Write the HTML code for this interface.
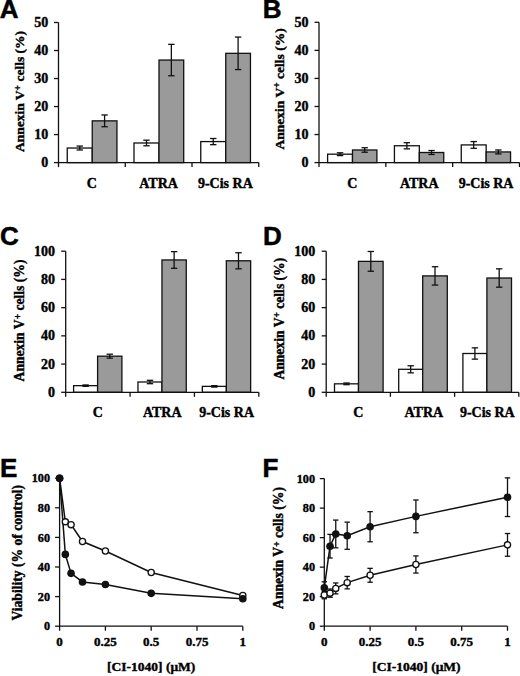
<!DOCTYPE html>
<html><head><meta charset="utf-8"><style>
html,body{margin:0;padding:0;background:#fff;}
svg{display:block;}
</style></head><body>
<svg width="520" height="676" viewBox="0 0 520 676">
<rect width="520" height="676" fill="#fff"/>
<text x="-0.20" y="18.20" font-family="Liberation Sans, sans-serif" font-weight="bold" stroke="#000" stroke-width="0.5" font-size="26">A</text>
<rect x="67.25" y="148.03" width="25.00" height="14.57" fill="#fff" stroke="#111" stroke-width="1.3"/>
<rect x="92.25" y="120.85" width="24.70" height="41.75" fill="#9a9a9a" stroke="#111" stroke-width="1.3"/>
<line x1="79.75" y1="146.07" x2="79.75" y2="149.99" stroke="#111" stroke-width="1.3"/>
<line x1="76.55" y1="146.07" x2="82.95" y2="146.07" stroke="#111" stroke-width="1.3"/>
<line x1="76.55" y1="149.99" x2="82.95" y2="149.99" stroke="#111" stroke-width="1.3"/>
<line x1="104.60" y1="114.97" x2="104.60" y2="126.73" stroke="#111" stroke-width="1.3"/>
<line x1="101.40" y1="114.97" x2="107.80" y2="114.97" stroke="#111" stroke-width="1.3"/>
<line x1="101.40" y1="126.73" x2="107.80" y2="126.73" stroke="#111" stroke-width="1.3"/>
<rect x="134.00" y="142.99" width="25.00" height="19.61" fill="#fff" stroke="#111" stroke-width="1.3"/>
<rect x="159.00" y="60.05" width="24.70" height="102.55" fill="#9a9a9a" stroke="#111" stroke-width="1.3"/>
<line x1="146.50" y1="140.18" x2="146.50" y2="145.79" stroke="#111" stroke-width="1.3"/>
<line x1="143.30" y1="140.18" x2="149.70" y2="140.18" stroke="#111" stroke-width="1.3"/>
<line x1="143.30" y1="145.79" x2="149.70" y2="145.79" stroke="#111" stroke-width="1.3"/>
<line x1="171.35" y1="44.36" x2="171.35" y2="75.74" stroke="#111" stroke-width="1.3"/>
<line x1="168.15" y1="44.36" x2="174.55" y2="44.36" stroke="#111" stroke-width="1.3"/>
<line x1="168.15" y1="75.74" x2="174.55" y2="75.74" stroke="#111" stroke-width="1.3"/>
<rect x="200.75" y="141.58" width="25.00" height="21.02" fill="#fff" stroke="#111" stroke-width="1.3"/>
<rect x="225.75" y="53.32" width="24.70" height="109.28" fill="#9a9a9a" stroke="#111" stroke-width="1.3"/>
<line x1="213.25" y1="138.50" x2="213.25" y2="144.67" stroke="#111" stroke-width="1.3"/>
<line x1="210.05" y1="138.50" x2="216.45" y2="138.50" stroke="#111" stroke-width="1.3"/>
<line x1="210.05" y1="144.67" x2="216.45" y2="144.67" stroke="#111" stroke-width="1.3"/>
<line x1="238.10" y1="37.07" x2="238.10" y2="69.57" stroke="#111" stroke-width="1.3"/>
<line x1="234.90" y1="37.07" x2="241.30" y2="37.07" stroke="#111" stroke-width="1.3"/>
<line x1="234.90" y1="69.57" x2="241.30" y2="69.57" stroke="#111" stroke-width="1.3"/>
<line x1="58.50" y1="22.50" x2="58.50" y2="167.10" stroke="#111" stroke-width="1.3"/>
<line x1="58.50" y1="162.60" x2="258.75" y2="162.60" stroke="#111" stroke-width="1.3"/>
<line x1="125.25" y1="162.60" x2="125.25" y2="167.10" stroke="#111" stroke-width="1.3"/>
<line x1="192.00" y1="162.60" x2="192.00" y2="167.10" stroke="#111" stroke-width="1.3"/>
<line x1="258.75" y1="162.60" x2="258.75" y2="167.10" stroke="#111" stroke-width="1.3"/>
<line x1="54.00" y1="162.60" x2="58.50" y2="162.60" stroke="#111" stroke-width="1.3"/>
<text x="48.30" y="167.20" font-family="Liberation Serif, serif" font-weight="bold" stroke="#000" stroke-width="0.4" font-size="14" text-anchor="end" >0</text>
<line x1="54.00" y1="134.58" x2="58.50" y2="134.58" stroke="#111" stroke-width="1.3"/>
<text x="48.30" y="139.18" font-family="Liberation Serif, serif" font-weight="bold" stroke="#000" stroke-width="0.4" font-size="14" text-anchor="end" >10</text>
<line x1="54.00" y1="106.56" x2="58.50" y2="106.56" stroke="#111" stroke-width="1.3"/>
<text x="48.30" y="111.16" font-family="Liberation Serif, serif" font-weight="bold" stroke="#000" stroke-width="0.4" font-size="14" text-anchor="end" >20</text>
<line x1="54.00" y1="78.54" x2="58.50" y2="78.54" stroke="#111" stroke-width="1.3"/>
<text x="48.30" y="83.14" font-family="Liberation Serif, serif" font-weight="bold" stroke="#000" stroke-width="0.4" font-size="14" text-anchor="end" >30</text>
<line x1="54.00" y1="50.52" x2="58.50" y2="50.52" stroke="#111" stroke-width="1.3"/>
<text x="48.30" y="55.12" font-family="Liberation Serif, serif" font-weight="bold" stroke="#000" stroke-width="0.4" font-size="14" text-anchor="end" >40</text>
<line x1="54.00" y1="22.50" x2="58.50" y2="22.50" stroke="#111" stroke-width="1.3"/>
<text x="48.30" y="27.10" font-family="Liberation Serif, serif" font-weight="bold" stroke="#000" stroke-width="0.4" font-size="14" text-anchor="end" >50</text>
<text x="91.88" y="187.80" font-family="Liberation Serif, serif" font-weight="bold" stroke="#000" stroke-width="0.4" font-size="14" text-anchor="middle" >C</text>
<text x="158.62" y="187.80" font-family="Liberation Serif, serif" font-weight="bold" stroke="#000" stroke-width="0.4" font-size="14" text-anchor="middle" >ATRA</text>
<text x="225.38" y="187.80" font-family="Liberation Serif, serif" font-weight="bold" stroke="#000" stroke-width="0.4" font-size="14" text-anchor="middle" >9-Cis RA</text>
<text transform="translate(24.20,91.50) rotate(-90)" x="0" y="0" font-family="Liberation Serif, serif" font-weight="bold" stroke="#000" stroke-width="0.4" font-size="13.5" text-anchor="middle">Annexin V<tspan font-size="9.5" dy="-3.5">+</tspan><tspan dy="3.5"> cells (%)</tspan></text>
<text x="262.70" y="18.20" font-family="Liberation Sans, sans-serif" font-weight="bold" stroke="#000" stroke-width="0.5" font-size="26">B</text>
<rect x="327.60" y="154.18" width="24.90" height="8.42" fill="#fff" stroke="#111" stroke-width="1.3"/>
<rect x="352.50" y="149.97" width="24.40" height="12.63" fill="#9a9a9a" stroke="#111" stroke-width="1.3"/>
<line x1="340.05" y1="152.78" x2="340.05" y2="155.59" stroke="#111" stroke-width="1.3"/>
<line x1="336.85" y1="152.78" x2="343.25" y2="152.78" stroke="#111" stroke-width="1.3"/>
<line x1="336.85" y1="155.59" x2="343.25" y2="155.59" stroke="#111" stroke-width="1.3"/>
<line x1="364.70" y1="147.73" x2="364.70" y2="152.22" stroke="#111" stroke-width="1.3"/>
<line x1="361.50" y1="147.73" x2="367.90" y2="147.73" stroke="#111" stroke-width="1.3"/>
<line x1="361.50" y1="152.22" x2="367.90" y2="152.22" stroke="#111" stroke-width="1.3"/>
<rect x="394.43" y="145.76" width="24.90" height="16.84" fill="#fff" stroke="#111" stroke-width="1.3"/>
<rect x="419.33" y="152.50" width="24.40" height="10.10" fill="#9a9a9a" stroke="#111" stroke-width="1.3"/>
<line x1="406.88" y1="142.68" x2="406.88" y2="148.85" stroke="#111" stroke-width="1.3"/>
<line x1="403.68" y1="142.68" x2="410.08" y2="142.68" stroke="#111" stroke-width="1.3"/>
<line x1="403.68" y1="148.85" x2="410.08" y2="148.85" stroke="#111" stroke-width="1.3"/>
<line x1="431.53" y1="150.53" x2="431.53" y2="154.46" stroke="#111" stroke-width="1.3"/>
<line x1="428.33" y1="150.53" x2="434.73" y2="150.53" stroke="#111" stroke-width="1.3"/>
<line x1="428.33" y1="154.46" x2="434.73" y2="154.46" stroke="#111" stroke-width="1.3"/>
<rect x="461.26" y="144.92" width="24.90" height="17.68" fill="#fff" stroke="#111" stroke-width="1.3"/>
<rect x="486.16" y="151.94" width="24.40" height="10.66" fill="#9a9a9a" stroke="#111" stroke-width="1.3"/>
<line x1="473.71" y1="141.56" x2="473.71" y2="148.29" stroke="#111" stroke-width="1.3"/>
<line x1="470.51" y1="141.56" x2="476.91" y2="141.56" stroke="#111" stroke-width="1.3"/>
<line x1="470.51" y1="148.29" x2="476.91" y2="148.29" stroke="#111" stroke-width="1.3"/>
<line x1="498.36" y1="149.97" x2="498.36" y2="153.90" stroke="#111" stroke-width="1.3"/>
<line x1="495.16" y1="149.97" x2="501.56" y2="149.97" stroke="#111" stroke-width="1.3"/>
<line x1="495.16" y1="153.90" x2="501.56" y2="153.90" stroke="#111" stroke-width="1.3"/>
<line x1="319.00" y1="22.30" x2="319.00" y2="167.10" stroke="#111" stroke-width="1.3"/>
<line x1="319.00" y1="162.60" x2="519.50" y2="162.60" stroke="#111" stroke-width="1.3"/>
<line x1="385.83" y1="162.60" x2="385.83" y2="167.10" stroke="#111" stroke-width="1.3"/>
<line x1="452.66" y1="162.60" x2="452.66" y2="167.10" stroke="#111" stroke-width="1.3"/>
<line x1="519.49" y1="162.60" x2="519.49" y2="167.10" stroke="#111" stroke-width="1.3"/>
<line x1="314.50" y1="162.60" x2="319.00" y2="162.60" stroke="#111" stroke-width="1.3"/>
<text x="308.60" y="167.20" font-family="Liberation Serif, serif" font-weight="bold" stroke="#000" stroke-width="0.4" font-size="14" text-anchor="end" >0</text>
<line x1="314.50" y1="134.54" x2="319.00" y2="134.54" stroke="#111" stroke-width="1.3"/>
<text x="308.60" y="139.14" font-family="Liberation Serif, serif" font-weight="bold" stroke="#000" stroke-width="0.4" font-size="14" text-anchor="end" >10</text>
<line x1="314.50" y1="106.48" x2="319.00" y2="106.48" stroke="#111" stroke-width="1.3"/>
<text x="308.60" y="111.08" font-family="Liberation Serif, serif" font-weight="bold" stroke="#000" stroke-width="0.4" font-size="14" text-anchor="end" >20</text>
<line x1="314.50" y1="78.42" x2="319.00" y2="78.42" stroke="#111" stroke-width="1.3"/>
<text x="308.60" y="83.02" font-family="Liberation Serif, serif" font-weight="bold" stroke="#000" stroke-width="0.4" font-size="14" text-anchor="end" >30</text>
<line x1="314.50" y1="50.36" x2="319.00" y2="50.36" stroke="#111" stroke-width="1.3"/>
<text x="308.60" y="54.96" font-family="Liberation Serif, serif" font-weight="bold" stroke="#000" stroke-width="0.4" font-size="14" text-anchor="end" >40</text>
<line x1="314.50" y1="22.30" x2="319.00" y2="22.30" stroke="#111" stroke-width="1.3"/>
<text x="308.60" y="26.90" font-family="Liberation Serif, serif" font-weight="bold" stroke="#000" stroke-width="0.4" font-size="14" text-anchor="end" >50</text>
<text x="352.42" y="187.80" font-family="Liberation Serif, serif" font-weight="bold" stroke="#000" stroke-width="0.4" font-size="14" text-anchor="middle" >C</text>
<text x="419.25" y="187.80" font-family="Liberation Serif, serif" font-weight="bold" stroke="#000" stroke-width="0.4" font-size="14" text-anchor="middle" >ATRA</text>
<text x="486.07" y="187.80" font-family="Liberation Serif, serif" font-weight="bold" stroke="#000" stroke-width="0.4" font-size="14" text-anchor="middle" >9-Cis RA</text>
<text transform="translate(283.80,88.90) rotate(-90)" x="0" y="0" font-family="Liberation Serif, serif" font-weight="bold" stroke="#000" stroke-width="0.4" font-size="13.5" text-anchor="middle">Annexin V<tspan font-size="9.5" dy="-3.5">+</tspan><tspan dy="3.5"> cells (%)</tspan></text>
<text x="0.00" y="245.40" font-family="Liberation Sans, sans-serif" font-weight="bold" stroke="#000" stroke-width="0.5" font-size="26">C</text>
<rect x="73.60" y="385.67" width="24.00" height="6.63" fill="#fff" stroke="#111" stroke-width="1.3"/>
<rect x="97.60" y="356.18" width="24.30" height="36.12" fill="#9a9a9a" stroke="#111" stroke-width="1.3"/>
<line x1="85.60" y1="384.96" x2="85.60" y2="386.37" stroke="#111" stroke-width="1.3"/>
<line x1="82.40" y1="384.96" x2="88.80" y2="384.96" stroke="#111" stroke-width="1.3"/>
<line x1="82.40" y1="386.37" x2="88.80" y2="386.37" stroke="#111" stroke-width="1.3"/>
<line x1="109.75" y1="354.20" x2="109.75" y2="358.15" stroke="#111" stroke-width="1.3"/>
<line x1="106.55" y1="354.20" x2="112.95" y2="354.20" stroke="#111" stroke-width="1.3"/>
<line x1="106.55" y1="358.15" x2="112.95" y2="358.15" stroke="#111" stroke-width="1.3"/>
<rect x="137.97" y="382.00" width="24.00" height="10.30" fill="#fff" stroke="#111" stroke-width="1.3"/>
<rect x="161.97" y="259.95" width="24.30" height="132.35" fill="#9a9a9a" stroke="#111" stroke-width="1.3"/>
<line x1="149.97" y1="380.31" x2="149.97" y2="383.69" stroke="#111" stroke-width="1.3"/>
<line x1="146.77" y1="380.31" x2="153.17" y2="380.31" stroke="#111" stroke-width="1.3"/>
<line x1="146.77" y1="383.69" x2="153.17" y2="383.69" stroke="#111" stroke-width="1.3"/>
<line x1="174.12" y1="251.62" x2="174.12" y2="268.27" stroke="#111" stroke-width="1.3"/>
<line x1="170.92" y1="251.62" x2="177.32" y2="251.62" stroke="#111" stroke-width="1.3"/>
<line x1="170.92" y1="268.27" x2="177.32" y2="268.27" stroke="#111" stroke-width="1.3"/>
<rect x="202.34" y="386.37" width="24.00" height="5.93" fill="#fff" stroke="#111" stroke-width="1.3"/>
<rect x="226.34" y="260.79" width="24.30" height="131.51" fill="#9a9a9a" stroke="#111" stroke-width="1.3"/>
<line x1="214.34" y1="385.67" x2="214.34" y2="387.08" stroke="#111" stroke-width="1.3"/>
<line x1="211.14" y1="385.67" x2="217.54" y2="385.67" stroke="#111" stroke-width="1.3"/>
<line x1="211.14" y1="387.08" x2="217.54" y2="387.08" stroke="#111" stroke-width="1.3"/>
<line x1="238.49" y1="252.75" x2="238.49" y2="268.84" stroke="#111" stroke-width="1.3"/>
<line x1="235.29" y1="252.75" x2="241.69" y2="252.75" stroke="#111" stroke-width="1.3"/>
<line x1="235.29" y1="268.84" x2="241.69" y2="268.84" stroke="#111" stroke-width="1.3"/>
<line x1="65.70" y1="251.20" x2="65.70" y2="396.80" stroke="#111" stroke-width="1.3"/>
<line x1="65.70" y1="392.30" x2="258.80" y2="392.30" stroke="#111" stroke-width="1.3"/>
<line x1="130.07" y1="392.30" x2="130.07" y2="396.80" stroke="#111" stroke-width="1.3"/>
<line x1="194.44" y1="392.30" x2="194.44" y2="396.80" stroke="#111" stroke-width="1.3"/>
<line x1="258.81" y1="392.30" x2="258.81" y2="396.80" stroke="#111" stroke-width="1.3"/>
<line x1="61.20" y1="392.30" x2="65.70" y2="392.30" stroke="#111" stroke-width="1.3"/>
<text x="55.00" y="396.90" font-family="Liberation Serif, serif" font-weight="bold" stroke="#000" stroke-width="0.4" font-size="14" text-anchor="end" >0</text>
<line x1="61.20" y1="364.08" x2="65.70" y2="364.08" stroke="#111" stroke-width="1.3"/>
<text x="55.00" y="368.68" font-family="Liberation Serif, serif" font-weight="bold" stroke="#000" stroke-width="0.4" font-size="14" text-anchor="end" >20</text>
<line x1="61.20" y1="335.86" x2="65.70" y2="335.86" stroke="#111" stroke-width="1.3"/>
<text x="55.00" y="340.46" font-family="Liberation Serif, serif" font-weight="bold" stroke="#000" stroke-width="0.4" font-size="14" text-anchor="end" >40</text>
<line x1="61.20" y1="307.64" x2="65.70" y2="307.64" stroke="#111" stroke-width="1.3"/>
<text x="55.00" y="312.24" font-family="Liberation Serif, serif" font-weight="bold" stroke="#000" stroke-width="0.4" font-size="14" text-anchor="end" >60</text>
<line x1="61.20" y1="279.42" x2="65.70" y2="279.42" stroke="#111" stroke-width="1.3"/>
<text x="55.00" y="284.02" font-family="Liberation Serif, serif" font-weight="bold" stroke="#000" stroke-width="0.4" font-size="14" text-anchor="end" >80</text>
<line x1="61.20" y1="251.20" x2="65.70" y2="251.20" stroke="#111" stroke-width="1.3"/>
<text x="55.00" y="255.80" font-family="Liberation Serif, serif" font-weight="bold" stroke="#000" stroke-width="0.4" font-size="14" text-anchor="end" >100</text>
<text x="97.89" y="417.20" font-family="Liberation Serif, serif" font-weight="bold" stroke="#000" stroke-width="0.4" font-size="14" text-anchor="middle" >C</text>
<text x="162.25" y="417.20" font-family="Liberation Serif, serif" font-weight="bold" stroke="#000" stroke-width="0.4" font-size="14" text-anchor="middle" >ATRA</text>
<text x="226.62" y="417.20" font-family="Liberation Serif, serif" font-weight="bold" stroke="#000" stroke-width="0.4" font-size="14" text-anchor="middle" >9-Cis RA</text>
<text transform="translate(24.30,320.50) rotate(-90)" x="0" y="0" font-family="Liberation Serif, serif" font-weight="bold" stroke="#000" stroke-width="0.4" font-size="13.6" text-anchor="middle">Annexin V<tspan font-size="9.5" dy="-3.5">+</tspan><tspan dy="3.5"> cells (%)</tspan></text>
<text x="262.90" y="244.50" font-family="Liberation Sans, sans-serif" font-weight="bold" stroke="#000" stroke-width="0.5" font-size="26">D</text>
<rect x="334.50" y="383.83" width="24.00" height="8.47" fill="#fff" stroke="#111" stroke-width="1.3"/>
<rect x="358.50" y="261.36" width="24.60" height="130.94" fill="#9a9a9a" stroke="#111" stroke-width="1.3"/>
<line x1="346.50" y1="382.99" x2="346.50" y2="384.68" stroke="#111" stroke-width="1.3"/>
<line x1="343.30" y1="382.99" x2="349.70" y2="382.99" stroke="#111" stroke-width="1.3"/>
<line x1="343.30" y1="384.68" x2="349.70" y2="384.68" stroke="#111" stroke-width="1.3"/>
<line x1="370.80" y1="251.48" x2="370.80" y2="271.24" stroke="#111" stroke-width="1.3"/>
<line x1="367.60" y1="251.48" x2="374.00" y2="251.48" stroke="#111" stroke-width="1.3"/>
<line x1="367.60" y1="271.24" x2="374.00" y2="271.24" stroke="#111" stroke-width="1.3"/>
<rect x="398.70" y="369.30" width="24.00" height="23.00" fill="#fff" stroke="#111" stroke-width="1.3"/>
<rect x="422.70" y="275.89" width="24.60" height="116.41" fill="#9a9a9a" stroke="#111" stroke-width="1.3"/>
<line x1="410.70" y1="365.77" x2="410.70" y2="372.83" stroke="#111" stroke-width="1.3"/>
<line x1="407.50" y1="365.77" x2="413.90" y2="365.77" stroke="#111" stroke-width="1.3"/>
<line x1="407.50" y1="372.83" x2="413.90" y2="372.83" stroke="#111" stroke-width="1.3"/>
<line x1="435.00" y1="266.72" x2="435.00" y2="285.06" stroke="#111" stroke-width="1.3"/>
<line x1="431.80" y1="266.72" x2="438.20" y2="266.72" stroke="#111" stroke-width="1.3"/>
<line x1="431.80" y1="285.06" x2="438.20" y2="285.06" stroke="#111" stroke-width="1.3"/>
<rect x="462.90" y="353.50" width="24.00" height="38.80" fill="#fff" stroke="#111" stroke-width="1.3"/>
<rect x="486.90" y="278.01" width="24.60" height="114.29" fill="#9a9a9a" stroke="#111" stroke-width="1.3"/>
<line x1="474.90" y1="347.85" x2="474.90" y2="359.14" stroke="#111" stroke-width="1.3"/>
<line x1="471.70" y1="347.85" x2="478.10" y2="347.85" stroke="#111" stroke-width="1.3"/>
<line x1="471.70" y1="359.14" x2="478.10" y2="359.14" stroke="#111" stroke-width="1.3"/>
<line x1="499.20" y1="268.84" x2="499.20" y2="287.18" stroke="#111" stroke-width="1.3"/>
<line x1="496.00" y1="268.84" x2="502.40" y2="268.84" stroke="#111" stroke-width="1.3"/>
<line x1="496.00" y1="287.18" x2="502.40" y2="287.18" stroke="#111" stroke-width="1.3"/>
<line x1="326.20" y1="251.20" x2="326.20" y2="396.80" stroke="#111" stroke-width="1.3"/>
<line x1="326.20" y1="392.30" x2="518.80" y2="392.30" stroke="#111" stroke-width="1.3"/>
<line x1="390.40" y1="392.30" x2="390.40" y2="396.80" stroke="#111" stroke-width="1.3"/>
<line x1="454.60" y1="392.30" x2="454.60" y2="396.80" stroke="#111" stroke-width="1.3"/>
<line x1="518.80" y1="392.30" x2="518.80" y2="396.80" stroke="#111" stroke-width="1.3"/>
<line x1="321.70" y1="392.30" x2="326.20" y2="392.30" stroke="#111" stroke-width="1.3"/>
<text x="315.30" y="396.90" font-family="Liberation Serif, serif" font-weight="bold" stroke="#000" stroke-width="0.4" font-size="14" text-anchor="end" >0</text>
<line x1="321.70" y1="364.08" x2="326.20" y2="364.08" stroke="#111" stroke-width="1.3"/>
<text x="315.30" y="368.68" font-family="Liberation Serif, serif" font-weight="bold" stroke="#000" stroke-width="0.4" font-size="14" text-anchor="end" >20</text>
<line x1="321.70" y1="335.86" x2="326.20" y2="335.86" stroke="#111" stroke-width="1.3"/>
<text x="315.30" y="340.46" font-family="Liberation Serif, serif" font-weight="bold" stroke="#000" stroke-width="0.4" font-size="14" text-anchor="end" >40</text>
<line x1="321.70" y1="307.64" x2="326.20" y2="307.64" stroke="#111" stroke-width="1.3"/>
<text x="315.30" y="312.24" font-family="Liberation Serif, serif" font-weight="bold" stroke="#000" stroke-width="0.4" font-size="14" text-anchor="end" >60</text>
<line x1="321.70" y1="279.42" x2="326.20" y2="279.42" stroke="#111" stroke-width="1.3"/>
<text x="315.30" y="284.02" font-family="Liberation Serif, serif" font-weight="bold" stroke="#000" stroke-width="0.4" font-size="14" text-anchor="end" >80</text>
<line x1="321.70" y1="251.20" x2="326.20" y2="251.20" stroke="#111" stroke-width="1.3"/>
<text x="315.30" y="255.80" font-family="Liberation Serif, serif" font-weight="bold" stroke="#000" stroke-width="0.4" font-size="14" text-anchor="end" >100</text>
<text x="358.40" y="417.20" font-family="Liberation Serif, serif" font-weight="bold" stroke="#000" stroke-width="0.4" font-size="14" text-anchor="middle" >C</text>
<text x="423.80" y="417.20" font-family="Liberation Serif, serif" font-weight="bold" stroke="#000" stroke-width="0.4" font-size="14" text-anchor="middle" >ATRA</text>
<text x="487.30" y="417.20" font-family="Liberation Serif, serif" font-weight="bold" stroke="#000" stroke-width="0.4" font-size="14" text-anchor="middle" >9-Cis RA</text>
<text transform="translate(283.60,318.70) rotate(-90)" x="0" y="0" font-family="Liberation Serif, serif" font-weight="bold" stroke="#000" stroke-width="0.4" font-size="13.6" text-anchor="middle">Annexin V<tspan font-size="9.5" dy="-3.5">+</tspan><tspan dy="3.5"> cells (%)</tspan></text>
<text x="0.00" y="477.00" font-family="Liberation Sans, sans-serif" font-weight="bold" stroke="#000" stroke-width="0.5" font-size="26">E</text>
<line x1="59.60" y1="478.20" x2="59.60" y2="630.70" stroke="#111" stroke-width="1.3"/>
<line x1="59.60" y1="626.20" x2="242.80" y2="626.20" stroke="#111" stroke-width="1.3"/>
<line x1="105.40" y1="626.20" x2="105.40" y2="630.70" stroke="#111" stroke-width="1.3"/>
<line x1="151.20" y1="626.20" x2="151.20" y2="630.70" stroke="#111" stroke-width="1.3"/>
<line x1="197.00" y1="626.20" x2="197.00" y2="630.70" stroke="#111" stroke-width="1.3"/>
<line x1="242.80" y1="626.20" x2="242.80" y2="630.70" stroke="#111" stroke-width="1.3"/>
<line x1="55.10" y1="626.20" x2="59.60" y2="626.20" stroke="#111" stroke-width="1.3"/>
<text x="50.00" y="630.40" font-family="Liberation Serif, serif" font-weight="bold" stroke="#000" stroke-width="0.4" font-size="12.2" text-anchor="end" >0</text>
<line x1="55.10" y1="596.60" x2="59.60" y2="596.60" stroke="#111" stroke-width="1.3"/>
<text x="50.00" y="600.80" font-family="Liberation Serif, serif" font-weight="bold" stroke="#000" stroke-width="0.4" font-size="12.2" text-anchor="end" >20</text>
<line x1="55.10" y1="567.00" x2="59.60" y2="567.00" stroke="#111" stroke-width="1.3"/>
<text x="50.00" y="571.20" font-family="Liberation Serif, serif" font-weight="bold" stroke="#000" stroke-width="0.4" font-size="12.2" text-anchor="end" >40</text>
<line x1="55.10" y1="537.40" x2="59.60" y2="537.40" stroke="#111" stroke-width="1.3"/>
<text x="50.00" y="541.60" font-family="Liberation Serif, serif" font-weight="bold" stroke="#000" stroke-width="0.4" font-size="12.2" text-anchor="end" >60</text>
<line x1="55.10" y1="507.80" x2="59.60" y2="507.80" stroke="#111" stroke-width="1.3"/>
<text x="50.00" y="512.00" font-family="Liberation Serif, serif" font-weight="bold" stroke="#000" stroke-width="0.4" font-size="12.2" text-anchor="end" >80</text>
<line x1="55.10" y1="478.20" x2="59.60" y2="478.20" stroke="#111" stroke-width="1.3"/>
<text x="50.00" y="482.40" font-family="Liberation Serif, serif" font-weight="bold" stroke="#000" stroke-width="0.4" font-size="12.2" text-anchor="end" >100</text>
<text x="59.60" y="646.20" font-family="Liberation Serif, serif" font-weight="bold" stroke="#000" stroke-width="0.4" font-size="13.0" text-anchor="middle" >0</text>
<text x="105.40" y="646.20" font-family="Liberation Serif, serif" font-weight="bold" stroke="#000" stroke-width="0.4" font-size="13.0" text-anchor="middle" >0.25</text>
<text x="151.20" y="646.20" font-family="Liberation Serif, serif" font-weight="bold" stroke="#000" stroke-width="0.4" font-size="13.0" text-anchor="middle" >0.5</text>
<text x="197.00" y="646.20" font-family="Liberation Serif, serif" font-weight="bold" stroke="#000" stroke-width="0.4" font-size="13.0" text-anchor="middle" >0.75</text>
<text x="242.80" y="646.20" font-family="Liberation Serif, serif" font-weight="bold" stroke="#000" stroke-width="0.4" font-size="13.0" text-anchor="middle" >1</text>
<text x="151.20" y="671.00" font-family="Liberation Serif, serif" font-weight="bold" stroke="#000" stroke-width="0.4" font-size="13.5" text-anchor="middle" >[CI-1040] (μM)</text>
<polyline points="59.60,478.20 65.33,521.86 71.05,524.67 82.50,541.54 105.40,551.02 151.20,572.48 242.80,595.42" fill="none" stroke="#111" stroke-width="1.5"/>
<polyline points="59.60,478.20 65.33,554.42 71.05,573.36 82.50,581.95 105.40,584.46 151.20,593.34 242.80,598.82" fill="none" stroke="#111" stroke-width="1.5"/>
<circle cx="59.60" cy="478.20" r="3.1" fill="#fff" stroke="#111" stroke-width="1.3"/>
<circle cx="65.33" cy="521.86" r="3.1" fill="#fff" stroke="#111" stroke-width="1.3"/>
<circle cx="71.05" cy="524.67" r="3.1" fill="#fff" stroke="#111" stroke-width="1.3"/>
<circle cx="82.50" cy="541.54" r="3.1" fill="#fff" stroke="#111" stroke-width="1.3"/>
<circle cx="105.40" cy="551.02" r="3.1" fill="#fff" stroke="#111" stroke-width="1.3"/>
<circle cx="151.20" cy="572.48" r="3.1" fill="#fff" stroke="#111" stroke-width="1.3"/>
<circle cx="242.80" cy="595.42" r="3.1" fill="#fff" stroke="#111" stroke-width="1.3"/>
<circle cx="59.60" cy="478.20" r="3.8" fill="#111"/>
<circle cx="65.33" cy="554.42" r="3.8" fill="#111"/>
<circle cx="71.05" cy="573.36" r="3.8" fill="#111"/>
<circle cx="82.50" cy="581.95" r="3.8" fill="#111"/>
<circle cx="105.40" cy="584.46" r="3.8" fill="#111"/>
<circle cx="151.20" cy="593.34" r="3.8" fill="#111"/>
<circle cx="242.80" cy="598.82" r="3.8" fill="#111"/>
<text transform="translate(22.20,552.80) rotate(-90)" x="0" y="0" font-family="Liberation Serif, serif" font-weight="bold" stroke="#000" stroke-width="0.4" font-size="13.6" text-anchor="middle">Viability (% of control)</text>
<text x="262.50" y="477.00" font-family="Liberation Sans, sans-serif" font-weight="bold" stroke="#000" stroke-width="0.5" font-size="26">F</text>
<line x1="324.30" y1="478.60" x2="324.30" y2="630.70" stroke="#111" stroke-width="1.3"/>
<line x1="324.30" y1="626.20" x2="507.50" y2="626.20" stroke="#111" stroke-width="1.3"/>
<line x1="370.10" y1="626.20" x2="370.10" y2="630.70" stroke="#111" stroke-width="1.3"/>
<line x1="415.90" y1="626.20" x2="415.90" y2="630.70" stroke="#111" stroke-width="1.3"/>
<line x1="461.70" y1="626.20" x2="461.70" y2="630.70" stroke="#111" stroke-width="1.3"/>
<line x1="507.50" y1="626.20" x2="507.50" y2="630.70" stroke="#111" stroke-width="1.3"/>
<line x1="319.80" y1="626.20" x2="324.30" y2="626.20" stroke="#111" stroke-width="1.3"/>
<text x="315.00" y="630.40" font-family="Liberation Serif, serif" font-weight="bold" stroke="#000" stroke-width="0.4" font-size="12.2" text-anchor="end" >0</text>
<line x1="319.80" y1="596.68" x2="324.30" y2="596.68" stroke="#111" stroke-width="1.3"/>
<text x="315.00" y="600.88" font-family="Liberation Serif, serif" font-weight="bold" stroke="#000" stroke-width="0.4" font-size="12.2" text-anchor="end" >20</text>
<line x1="319.80" y1="567.16" x2="324.30" y2="567.16" stroke="#111" stroke-width="1.3"/>
<text x="315.00" y="571.36" font-family="Liberation Serif, serif" font-weight="bold" stroke="#000" stroke-width="0.4" font-size="12.2" text-anchor="end" >40</text>
<line x1="319.80" y1="537.64" x2="324.30" y2="537.64" stroke="#111" stroke-width="1.3"/>
<text x="315.00" y="541.84" font-family="Liberation Serif, serif" font-weight="bold" stroke="#000" stroke-width="0.4" font-size="12.2" text-anchor="end" >60</text>
<line x1="319.80" y1="508.12" x2="324.30" y2="508.12" stroke="#111" stroke-width="1.3"/>
<text x="315.00" y="512.32" font-family="Liberation Serif, serif" font-weight="bold" stroke="#000" stroke-width="0.4" font-size="12.2" text-anchor="end" >80</text>
<line x1="319.80" y1="478.60" x2="324.30" y2="478.60" stroke="#111" stroke-width="1.3"/>
<text x="315.00" y="482.80" font-family="Liberation Serif, serif" font-weight="bold" stroke="#000" stroke-width="0.4" font-size="12.2" text-anchor="end" >100</text>
<text x="324.30" y="646.20" font-family="Liberation Serif, serif" font-weight="bold" stroke="#000" stroke-width="0.4" font-size="13.0" text-anchor="middle" >0</text>
<text x="370.10" y="646.20" font-family="Liberation Serif, serif" font-weight="bold" stroke="#000" stroke-width="0.4" font-size="13.0" text-anchor="middle" >0.25</text>
<text x="415.90" y="646.20" font-family="Liberation Serif, serif" font-weight="bold" stroke="#000" stroke-width="0.4" font-size="13.0" text-anchor="middle" >0.5</text>
<text x="461.70" y="646.20" font-family="Liberation Serif, serif" font-weight="bold" stroke="#000" stroke-width="0.4" font-size="13.0" text-anchor="middle" >0.75</text>
<text x="507.50" y="646.20" font-family="Liberation Serif, serif" font-weight="bold" stroke="#000" stroke-width="0.4" font-size="13.0" text-anchor="middle" >1</text>
<text x="416.50" y="671.00" font-family="Liberation Serif, serif" font-weight="bold" stroke="#000" stroke-width="0.4" font-size="13.5" text-anchor="middle" >[CI-1040] (μM)</text>
<line x1="324.30" y1="591.37" x2="324.30" y2="598.75" stroke="#111" stroke-width="1.3"/>
<line x1="321.60" y1="591.37" x2="327.00" y2="591.37" stroke="#111" stroke-width="1.3"/>
<line x1="321.60" y1="598.75" x2="327.00" y2="598.75" stroke="#111" stroke-width="1.3"/>
<line x1="330.03" y1="589.00" x2="330.03" y2="597.27" stroke="#111" stroke-width="1.3"/>
<line x1="327.33" y1="589.00" x2="332.73" y2="589.00" stroke="#111" stroke-width="1.3"/>
<line x1="327.33" y1="597.27" x2="332.73" y2="597.27" stroke="#111" stroke-width="1.3"/>
<line x1="335.75" y1="582.95" x2="335.75" y2="593.88" stroke="#111" stroke-width="1.3"/>
<line x1="333.05" y1="582.95" x2="338.45" y2="582.95" stroke="#111" stroke-width="1.3"/>
<line x1="333.05" y1="593.88" x2="338.45" y2="593.88" stroke="#111" stroke-width="1.3"/>
<line x1="347.20" y1="576.46" x2="347.20" y2="588.86" stroke="#111" stroke-width="1.3"/>
<line x1="344.50" y1="576.46" x2="349.90" y2="576.46" stroke="#111" stroke-width="1.3"/>
<line x1="344.50" y1="588.86" x2="349.90" y2="588.86" stroke="#111" stroke-width="1.3"/>
<line x1="370.10" y1="568.34" x2="370.10" y2="582.22" stroke="#111" stroke-width="1.3"/>
<line x1="367.40" y1="568.34" x2="372.80" y2="568.34" stroke="#111" stroke-width="1.3"/>
<line x1="367.40" y1="582.22" x2="372.80" y2="582.22" stroke="#111" stroke-width="1.3"/>
<line x1="415.90" y1="555.94" x2="415.90" y2="573.06" stroke="#111" stroke-width="1.3"/>
<line x1="413.20" y1="555.94" x2="418.60" y2="555.94" stroke="#111" stroke-width="1.3"/>
<line x1="413.20" y1="573.06" x2="418.60" y2="573.06" stroke="#111" stroke-width="1.3"/>
<line x1="507.50" y1="533.51" x2="507.50" y2="556.24" stroke="#111" stroke-width="1.3"/>
<line x1="504.80" y1="533.51" x2="510.20" y2="533.51" stroke="#111" stroke-width="1.3"/>
<line x1="504.80" y1="556.24" x2="510.20" y2="556.24" stroke="#111" stroke-width="1.3"/>
<polyline points="324.30,595.06 330.03,593.14 335.75,588.41 347.20,582.66 370.10,575.28 415.90,564.50 507.50,544.87" fill="none" stroke="#111" stroke-width="1.5"/>
<line x1="324.30" y1="581.77" x2="324.30" y2="593.58" stroke="#111" stroke-width="1.3"/>
<line x1="321.60" y1="581.77" x2="327.00" y2="581.77" stroke="#111" stroke-width="1.3"/>
<line x1="321.60" y1="593.58" x2="327.00" y2="593.58" stroke="#111" stroke-width="1.3"/>
<line x1="330.03" y1="534.39" x2="330.03" y2="558.01" stroke="#111" stroke-width="1.3"/>
<line x1="327.33" y1="534.39" x2="332.73" y2="534.39" stroke="#111" stroke-width="1.3"/>
<line x1="327.33" y1="558.01" x2="332.73" y2="558.01" stroke="#111" stroke-width="1.3"/>
<line x1="335.75" y1="520.08" x2="335.75" y2="547.82" stroke="#111" stroke-width="1.3"/>
<line x1="333.05" y1="520.08" x2="338.45" y2="520.08" stroke="#111" stroke-width="1.3"/>
<line x1="333.05" y1="547.82" x2="338.45" y2="547.82" stroke="#111" stroke-width="1.3"/>
<line x1="347.20" y1="522.14" x2="347.20" y2="549.30" stroke="#111" stroke-width="1.3"/>
<line x1="344.50" y1="522.14" x2="349.90" y2="522.14" stroke="#111" stroke-width="1.3"/>
<line x1="344.50" y1="549.30" x2="349.90" y2="549.30" stroke="#111" stroke-width="1.3"/>
<line x1="370.10" y1="511.66" x2="370.10" y2="541.77" stroke="#111" stroke-width="1.3"/>
<line x1="367.40" y1="511.66" x2="372.80" y2="511.66" stroke="#111" stroke-width="1.3"/>
<line x1="367.40" y1="541.77" x2="372.80" y2="541.77" stroke="#111" stroke-width="1.3"/>
<line x1="415.90" y1="500.00" x2="415.90" y2="532.77" stroke="#111" stroke-width="1.3"/>
<line x1="413.20" y1="500.00" x2="418.60" y2="500.00" stroke="#111" stroke-width="1.3"/>
<line x1="413.20" y1="532.77" x2="418.60" y2="532.77" stroke="#111" stroke-width="1.3"/>
<line x1="507.50" y1="477.86" x2="507.50" y2="516.53" stroke="#111" stroke-width="1.3"/>
<line x1="504.80" y1="477.86" x2="510.20" y2="477.86" stroke="#111" stroke-width="1.3"/>
<line x1="504.80" y1="516.53" x2="510.20" y2="516.53" stroke="#111" stroke-width="1.3"/>
<polyline points="324.30,587.68 330.03,546.20 335.75,533.95 347.20,535.72 370.10,526.72 415.90,516.39 507.50,497.20" fill="none" stroke="#111" stroke-width="1.5"/>
<circle cx="324.30" cy="595.06" r="3.1" fill="#fff" stroke="#111" stroke-width="1.3"/>
<circle cx="330.03" cy="593.14" r="3.1" fill="#fff" stroke="#111" stroke-width="1.3"/>
<circle cx="335.75" cy="588.41" r="3.1" fill="#fff" stroke="#111" stroke-width="1.3"/>
<circle cx="347.20" cy="582.66" r="3.1" fill="#fff" stroke="#111" stroke-width="1.3"/>
<circle cx="370.10" cy="575.28" r="3.1" fill="#fff" stroke="#111" stroke-width="1.3"/>
<circle cx="415.90" cy="564.50" r="3.1" fill="#fff" stroke="#111" stroke-width="1.3"/>
<circle cx="507.50" cy="544.87" r="3.1" fill="#fff" stroke="#111" stroke-width="1.3"/>
<circle cx="324.30" cy="587.68" r="3.8" fill="#111"/>
<circle cx="330.03" cy="546.20" r="3.8" fill="#111"/>
<circle cx="335.75" cy="533.95" r="3.8" fill="#111"/>
<circle cx="347.20" cy="535.72" r="3.8" fill="#111"/>
<circle cx="370.10" cy="526.72" r="3.8" fill="#111"/>
<circle cx="415.90" cy="516.39" r="3.8" fill="#111"/>
<circle cx="507.50" cy="497.20" r="3.8" fill="#111"/>
<text transform="translate(283.00,548.00) rotate(-90)" x="0" y="0" font-family="Liberation Serif, serif" font-weight="bold" stroke="#000" stroke-width="0.4" font-size="13.6" text-anchor="middle">Annexin V<tspan font-size="9.5" dy="-3.5">+</tspan><tspan dy="3.5"> cells (%)</tspan></text>
</svg>
</body></html>
